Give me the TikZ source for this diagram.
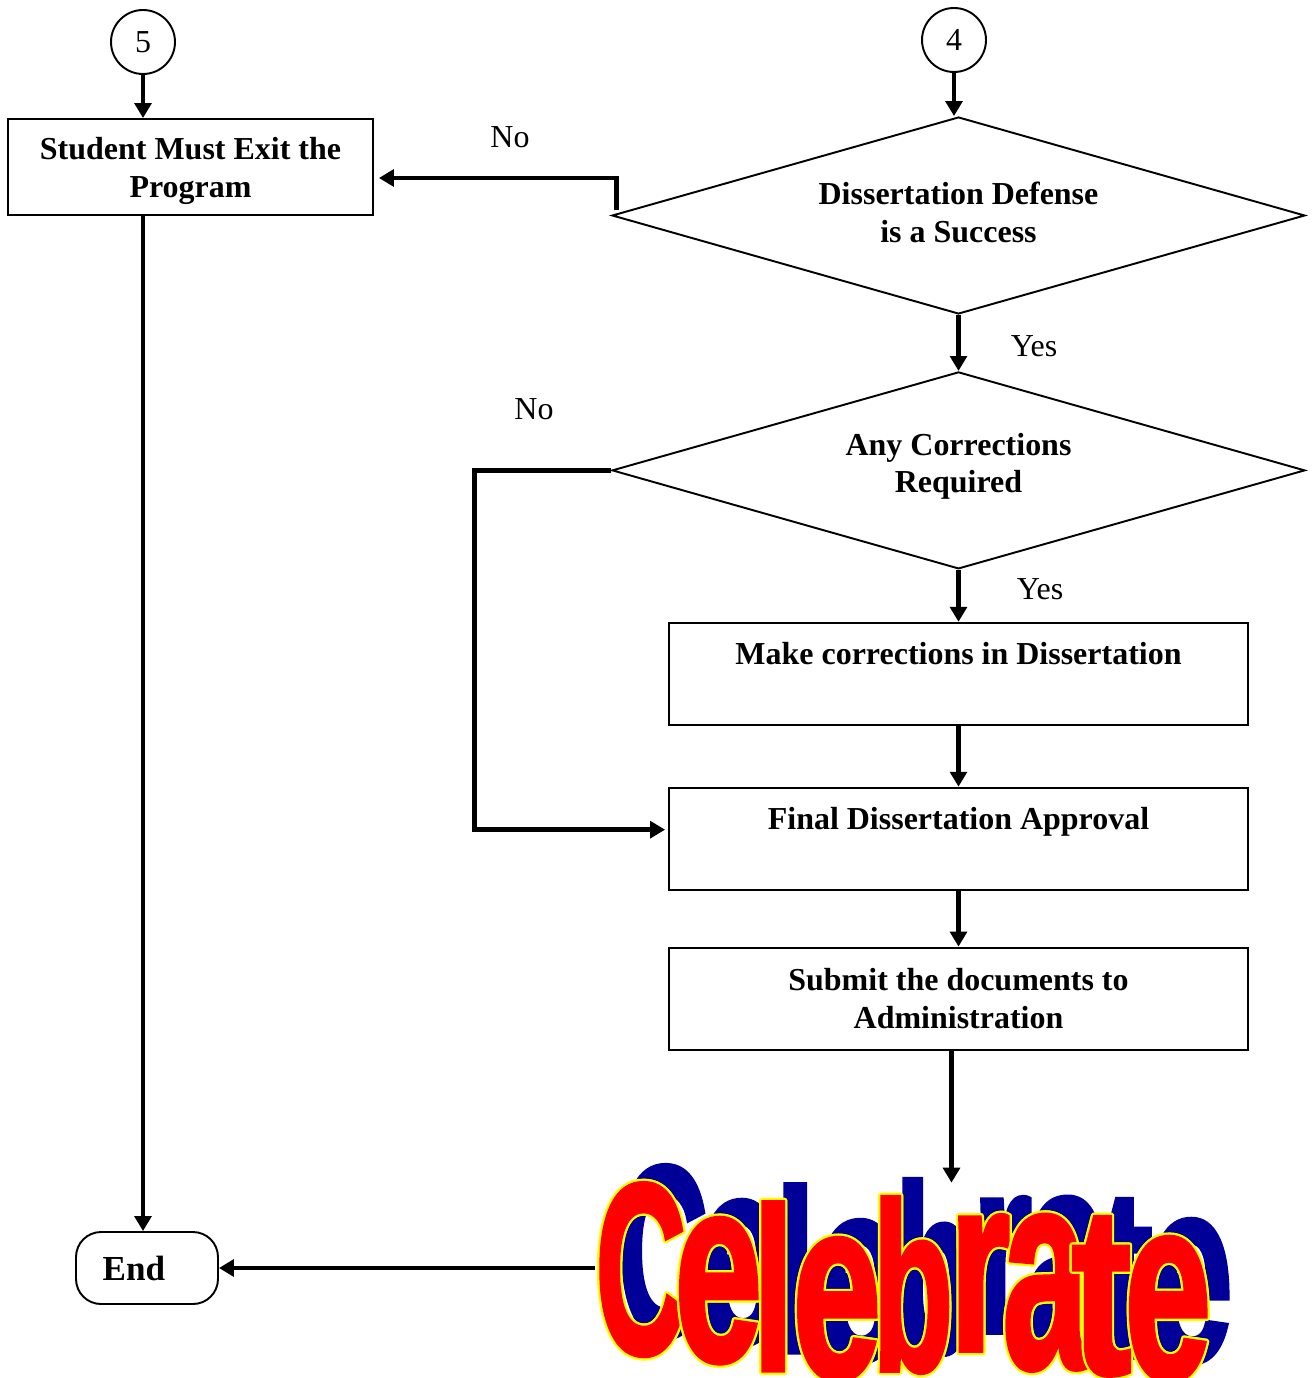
\documentclass[tikz,border=0pt]{standalone}
\usepackage{fontspec}
\setmainfont{Liberation Serif}
\newfontfamily\celfont{Liberation Sans}[BoldFeatures={FakeBold=2}]
\usetikzlibrary{arrows.meta,positioning,calc,shapes.geometric}

\definecolor{celred}{RGB}{255,0,0}
\definecolor{celyellow}{RGB}{255,255,0}
\definecolor{celblue}{RGB}{0,0,153}
\newlength{\pxu}\setlength{\pxu}{0.02cm}
\newcommand{\boxfont}{\fontsize{18.2}{21.5}\selectfont}

\tikzset{
  procbox/.style={draw, line width=1.1pt, minimum width=11.58cm, minimum height=2.04cm, align=center, font=\boxfont\bfseries},
  decision/.style={diamond, draw, line width=1.1pt, aspect=3.5, minimum width=13.86cm, minimum height=3.94cm, inner sep=0pt, align=center, font=\boxfont\bfseries},
  connector/.style={circle, draw, line width=1.1pt, minimum size=1.28cm, inner sep=0pt},
  terminal/.style={draw, line width=1.1pt, rounded corners=0.5cm, minimum width=2.84cm, minimum height=1.44cm, font=\fontsize{20}{24}\selectfont\bfseries},
  flow/.style={line width=2.8pt, -{Triangle[length=8.5pt,width=9.5pt]}},
  lbl/.style={inner sep=0pt},
  letterglyph/.style={inner sep=0pt, anchor=north west},
}

\begin{document}
\begin{tikzpicture}[x=0.02cm, y=-0.02cm, font=\boxfont]
  \useasboundingbox (0,0) rectangle (1312,1378);

  % Define nodes
  \node[connector] (c5) at (143,42) {5};
  \node[connector] (c4) at (954,40) {4};
  \node[procbox, minimum width=7.3cm, minimum height=1.92cm] (exit) at (190.5,167) {\rule{0pt}{17pt}Student Must Exit the\\Program};
  \node[decision, text depth=3.5pt] (defense) at (958.5,215.5) {Dissertation Defense\\is a Success};
  \node[decision, text depth=8.5pt, below=1.12cm of defense] (corr) {Any Corrections\\Required};
  \node[procbox, below=1.04cm of corr] (make) {Make corrections in Dissertation\\[-4.5pt]\strut};
  \node[procbox, below=1.22cm of make] (final) {Final Dissertation Approval\\[-4.5pt]\strut};
  \node[procbox, below=1.12cm of final] (submit) {Submit the documents to\\Administration};
  \node[terminal] (end) at (147,1268) {End\hspace{0.52cm}\null};
  \node[inner sep=0pt, minimum width=12.32cm, minimum height=3.9cm] (celebrate) at (903,1280.5) {};

  % Word art: shadow first, then outlined letters
  \foreach \lx/\ly/\lw/\lh/\ch [count=\i] in {595/1183/91/170/C, 674/1218/88/142/e, 752/1202/42/168/l, 792/1238/89/139/e, 872/1197/81/173/b, 949/1215/61/135/r, 1002/1215/86/152/a, 1071/1217/60/156/t, 1124/1237/87/141/e}
    \node[letterglyph, text=celblue] (sh\i) at (\lx+22,\ly-18) {\resizebox{\lw\pxu}{\lh\pxu}{\celfont\bfseries\ch}};
  \foreach \lx/\ly/\lw/\lh/\ch [count=\i] in {595/1183/91/170/C, 674/1218/88/142/e, 752/1202/42/168/l, 792/1238/89/139/e, 872/1197/81/173/b, 949/1215/61/135/r, 1002/1215/86/152/a, 1071/1217/60/156/t, 1124/1237/87/141/e} {
    \foreach \a [count=\j] in {0,30,...,330}
      \node[letterglyph, text=celyellow, shift={(\a:2.3)}] (rim\i-\j) at (\lx,\ly) {\resizebox{\lw\pxu}{\lh\pxu}{\celfont\bfseries\ch}};
    \node[letterglyph, text=celred] (let\i) at (\lx,\ly) {\resizebox{\lw\pxu}{\lh\pxu}{\celfont\bfseries\ch}};
  }

  % Edges
  \draw[flow] (c5) -- (c5 |- exit.north);
  \draw[flow] (c4) -- (c4 |- defense.north);
  \draw[flow] ($(defense.west)+(5,-5)$) |- ($(exit.east)+(5,11)$);
  \node[lbl] (no1) at (510,137) {No};
  \draw[flow] (defense.south) -- (corr.north);
  \node[lbl] (yes1) at (1034,346) {Yes};
  \draw[flow] (corr.west) -- ++(-137,0) |- ($(final.west)+(-3,-9)$);
  \node[lbl] (no2) at (534,409) {No};
  \draw[flow] (corr.south) -- (make.north);
  \node[lbl] (yes2) at (1040,589) {Yes};
  \draw[flow] (make.south) -- (final.north);
  \draw[flow] (final.south) -- (submit.north);
  \coordinate (subout) at ($(submit.south)+(-7,0)$);
  \draw[flow] (subout) -- (subout |- celebrate.north);
  \draw[flow] (c5 |- exit.south) -- (c5 |- end.north);
  \draw[flow] (celebrate.west |- end.east) -- (end.east);
\end{tikzpicture}
\end{document}
